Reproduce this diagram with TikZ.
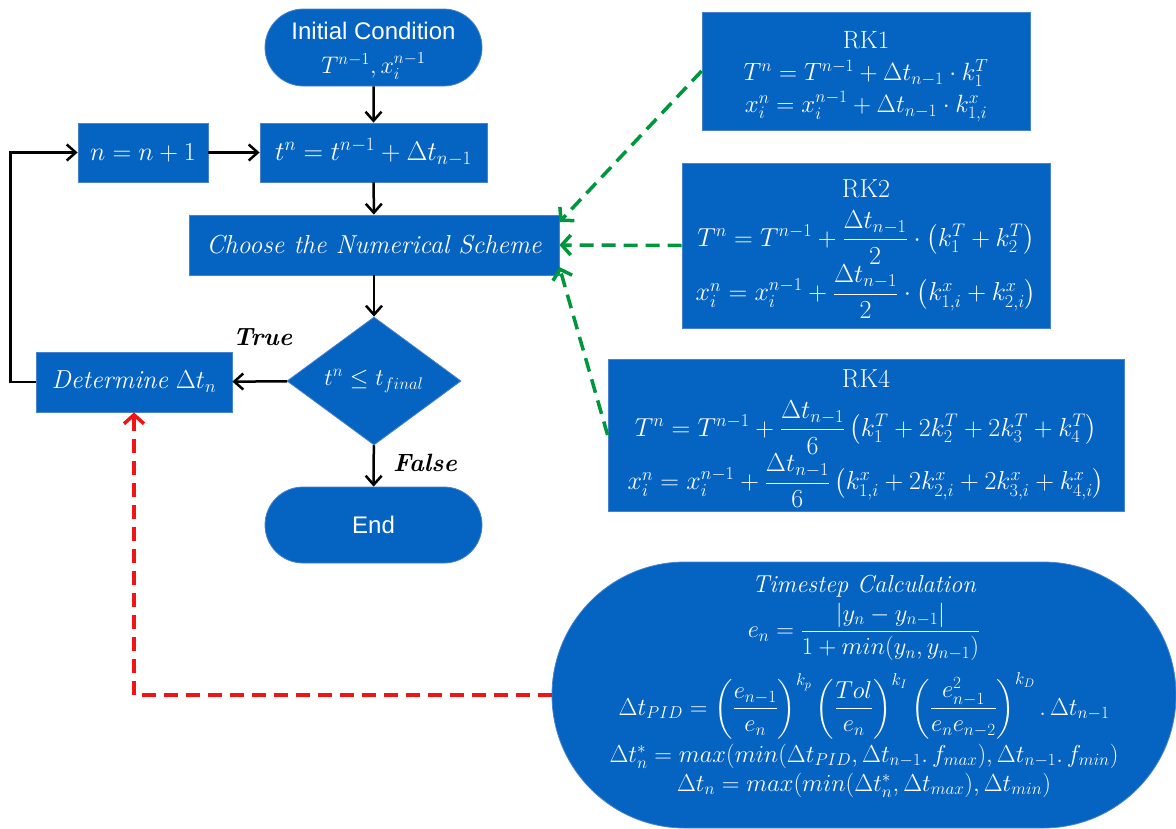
\RequirePackage{fix-cm}
\documentclass[tikz,border=0pt]{standalone}
\usepackage{amsmath}
\usepackage{fontspec}
\newfontfamily\arialf{Liberation Sans}
\usetikzlibrary{arrows.meta,shapes.geometric,shapes.misc}
\definecolor{boxblue}{RGB}{5,99,193}
\definecolor{boxedge}{RGB}{70,130,205}
\definecolor{dgreen}{RGB}{0,150,60}
\definecolor{dred}{RGB}{240,20,20}
\begin{document}
\begin{tikzpicture}[x=1pt,y=-1pt,
  box/.style={rectangle, fill=boxblue, draw=boxedge, line width=0.8pt, text=white,
    inner sep=0pt, align=center, font=\fontsize{26}{31}\selectfont},
  term/.style={box, rounded rectangle},
  dec/.style={box, diamond, aspect=1.36, font=\fontsize{24}{29}\selectfont},
  lbl/.style={font=\fontsize{25}{29}\selectfont\bfseries\itshape, inner sep=0pt},
  boxtext/.style={text=white, inner sep=0pt, align=center, font=\fontsize{24.5}{27}\selectfont},
  arr/.style={line width=2.5pt, -{Straight Barb[length=9pt,width=16pt]}},
  gdash/.style={dgreen, line width=3.5pt, dash pattern=on 14pt off 8pt,
    -{Straight Barb[length=9pt,width=20pt]}},
  rdash/.style={dred, line width=3.5pt, dash pattern=on 14pt off 8pt,
    -{Straight Barb[length=9pt,width=20pt]}}]
\useasboundingbox (0,0) rectangle (1176,828);

% main flow
\node[term, minimum width=217pt, minimum height=77pt, font=\fontsize{24}{29}\selectfont] (init) at (373.5,47.5)
  {\rule{0pt}{24pt}{\arialf Initial Condition}\\[5pt] $T^{n-1}, x_i^{n-1}$};
\node[box, minimum width=227pt, minimum height=59pt, font=\fontsize{27}{31}\selectfont] (tbox) at (373.5,152.5)
  {$t^n = t^{n-1} + \Delta t_{n-1}$};
\node[box, minimum width=130pt, minimum height=59pt] (nbox) at (143,152.5)
  {$n = n+1$};
\node[box, minimum width=370pt, minimum height=60pt] (choose) at (374,245)
  {\itshape Choose the Numerical Scheme};
\node[dec, minimum width=174pt, minimum height=128pt] (dec) at (374,381)
  {$t^n \le t_{final}$};
\node[box, minimum width=196pt, minimum height=60pt] (det) at (134,382)
  {$\mathit{Determine}\ \Delta t_n$};
\node[term, minimum width=217pt, minimum height=76pt, font=\fontsize{24}{29}\selectfont] (end) at (373.5,525)
  {\arialf End};
\node[lbl] (true) at (262.5,337) {True};
\node[lbl] (false) at (425,463) {False};

% schemes
\node[box, minimum width=328pt, minimum height=118pt, font=\fontsize{25}{32}\selectfont] (rk1) at (866,71)
  {\rule{0pt}{29pt}RK1\\
   $T^n = T^{n-1} + \Delta t_{n-1}\cdot k_1^T$\\
   $x_i^n = x_i^{n-1} + \Delta t_{n-1}\cdot k_{1,i}^x$};
\node[box, minimum width=368pt, minimum height=165pt] (rk2) at (866,245.5)
  {\rule{0pt}{25pt}RK2\\[12pt]
   $T^n = T^{n-1} + \dfrac{\Delta t_{n-1}}{2}\cdot\left(k_1^T + k_2^T\right)$\\[0pt]
   $x_i^n = x_i^{n-1} + \dfrac{\Delta t_{n-1}}{2}\cdot\left(k_{1,i}^x + k_{2,i}^x\right)$};
\node[box, minimum width=516pt, minimum height=152pt] (rk4) at (866,435)
  {\rule{0pt}{25pt}RK4\\[12pt]
   $T^n = T^{n-1} + \dfrac{\Delta t_{n-1}}{6}\left(k_1^T + 2k_2^T + 2k_3^T + k_4^T\right)$\\[-1pt]
   $x_i^n = x_i^{n-1} + \dfrac{\Delta t_{n-1}}{6}\left(k_{1,i}^x + 2k_{2,i}^x + 2k_{3,i}^x + k_{4,i}^x\right)$};

% timestep
\node[box, rounded corners=132.9pt, minimum width=624pt, minimum height=266pt] (ts) at (864,695) {};
\node[boxtext] (tstext) at (864,686)
  {\itshape Timestep Calculation\\[5pt]
   $e_n = \dfrac{|y_n - y_{n-1}|}{1 + min(y_n, y_{n-1})}$\\[11pt]
   $\Delta t_{PID} = \left(\dfrac{e_{n-1}}{e_n}\right)^{k_p}\left(\dfrac{Tol}{e_n}\right)^{k_I}\left(\dfrac{e_{n-1}^2}{e_n e_{n-2}}\right)^{k_D}.\,\Delta t_{n-1}$\\[4pt]
   $\Delta t_n^* = max(min(\Delta t_{PID}, \Delta t_{n-1}.\,f_{max}), \Delta t_{n-1}.\,f_{min})$\\[2pt]
   $\Delta t_n = max(min(\Delta t_n^*, \Delta t_{max}), \Delta t_{min})$};

% connectors
\draw[arr] (init) -- (tbox);
\draw[arr] (nbox) -- (tbox);
\draw[arr] (tbox) -- (choose);
\draw[arr] (choose) -- (dec);
\draw[arr] (dec) -- (det);
\draw[arr] (dec) -- (end);
\draw[arr] (det.west) -- ++(-25,0) |- (nbox.west);

\draw[gdash] (rk1.west) -- ([yshift=23pt]choose.east);
\draw[gdash] (rk2.west) -- (choose.east);
\draw[gdash] (rk4.west) -- ([yshift=-22pt]choose.east);
\draw[rdash] (ts.west) -| (det.south);
\end{tikzpicture}
\end{document}
